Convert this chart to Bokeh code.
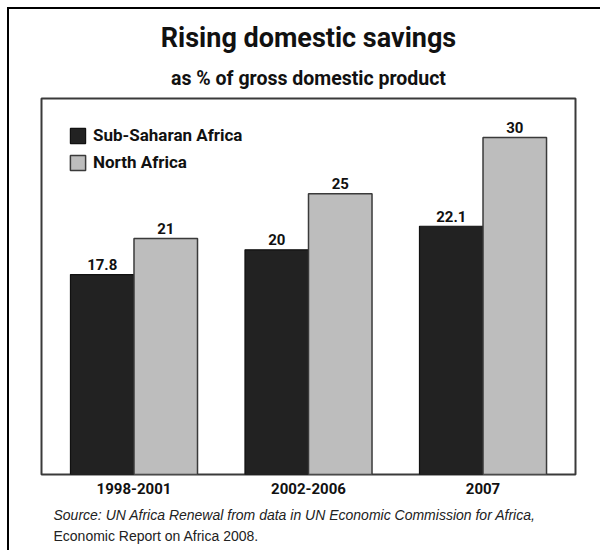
from bokeh.plotting import figure
from bokeh.models import (ColumnDataSource, FactorRange, Range1d, Legend, LegendItem, Title)
from bokeh.transform import dodge
from bokeh.core.properties import value
from bokeh.embed import file_html
from bokeh.resources import INLINE

# ---- data ----
periods = ["1998-2001", "2002-2006", "2007"]
sub_saharan = [17.8, 20, 22.1]
north_africa = [21, 25, 30]
series_names = ["Sub-Saharan Africa", "North Africa"]
title_text = "Rising domestic savings"
subtitle_text = "as % of gross domestic product"
source_line1 = "Source: UN Africa Renewal from data in UN Economic Commission for Africa,"
source_line2 = "Economic Report on Africa 2008."

FONT = "Roboto"
SRC_FONT = "Liberation Sans"
INK = "#111111"

source = ColumnDataSource(dict(
    period=periods,
    ssa=sub_saharan,
    na=north_africa,
    ssa_lbl=[f"{v:g}" for v in sub_saharan],
    na_lbl=[f"{v:g}" for v in north_africa],
))

p = figure(x_range=FactorRange(*periods, range_padding=0.02),
           y_range=Range1d(0, 33.47),
           frame_width=534, frame_height=376,
           width=591, height=541,
           min_border_left=32, min_border_right=25,
           min_border_top=89, min_border_bottom=76,
           title=None,
           output_backend="svg", toolbar_location=None,
           background_fill_color="white", border_fill_color="white")
p.styles = {"margin-left": "7px", "margin-top": "7px",
            "border-left": "2px solid black", "border-top": "2px solid black"}

BW = 0.364
OFF = 0.182
r1 = p.vbar(x=dodge("period", -OFF, range=p.x_range), top="ssa", width=BW, source=source,
            fill_color="#222222", line_color="#111111", line_width=1.2)
r2 = p.vbar(x=dodge("period", OFF, range=p.x_range), top="na", width=BW, source=source,
            fill_color="#bdbdbd", line_color="#3a3a3a", line_width=1.5)

for xcol, ycol, tcol, off in (("period", "ssa", "ssa_lbl", -OFF), ("period", "na", "na_lbl", OFF)):
    p.text(x=dodge(xcol, off, range=p.x_range), y=ycol, text=tcol, source=source,
           text_align="center", text_baseline="alphabetic", y_offset=-10,
           text_font=value(FONT), text_font_style="bold", text_font_size="15px",
           text_color=INK)

legend = Legend(items=[LegendItem(label=series_names[0], renderers=[r1]),
                       LegendItem(label=series_names[1], renderers=[r2])],
                location="top_left", margin=27, padding=0, spacing=7,
                glyph_width=19, glyph_height=19, label_height=19, label_standoff=6,
                label_text_font=FONT, label_text_font_style="bold",
                label_text_font_size="17px", label_text_color=INK,
                background_fill_alpha=0, border_line_alpha=0)
p.add_layout(legend)

# axes / grid
p.yaxis.visible = False
p.xgrid.visible = False
p.ygrid.visible = False
p.xaxis.axis_line_color = None
p.xaxis.major_tick_line_color = None
p.xaxis.minor_tick_line_color = None
p.xaxis.major_tick_out = 0
p.xaxis.major_tick_in = 0
p.xaxis.major_label_standoff = 8
p.xaxis.major_label_text_font = FONT
p.xaxis.major_label_text_font_style = "bold"
p.xaxis.major_label_text_font_size = "15px"
p.xaxis.major_label_text_color = INK
p.outline_line_color = "#3a3a3a"
p.outline_line_width = 2

# titles (later-added 'above' titles sit further from the frame)
p.add_layout(Title(text=subtitle_text, align="center", standoff=18,
                   text_font=FONT, text_font_style="bold", text_font_size="19.5px",
                   text_color=INK), "above")
p.add_layout(Title(text=title_text, align="center", standoff=4,
                   text_font=FONT, text_font_style="bold", text_font_size="27px",
                   text_color=INK), "above")
# source lines below the axis
p.add_layout(Title(text=source_line1, align="left", offset=12, standoff=16,
                   text_font=SRC_FONT, text_font_style="italic", text_font_size="14px",
                   text_color="#222222"), "below")
p.add_layout(Title(text=source_line2, align="left", offset=12, standoff=-9,
                   text_font=SRC_FONT, text_font_style="normal", text_font_size="14px",
                   text_color="#222222"), "below")

open("out.html", "w").write(file_html(p, INLINE))
